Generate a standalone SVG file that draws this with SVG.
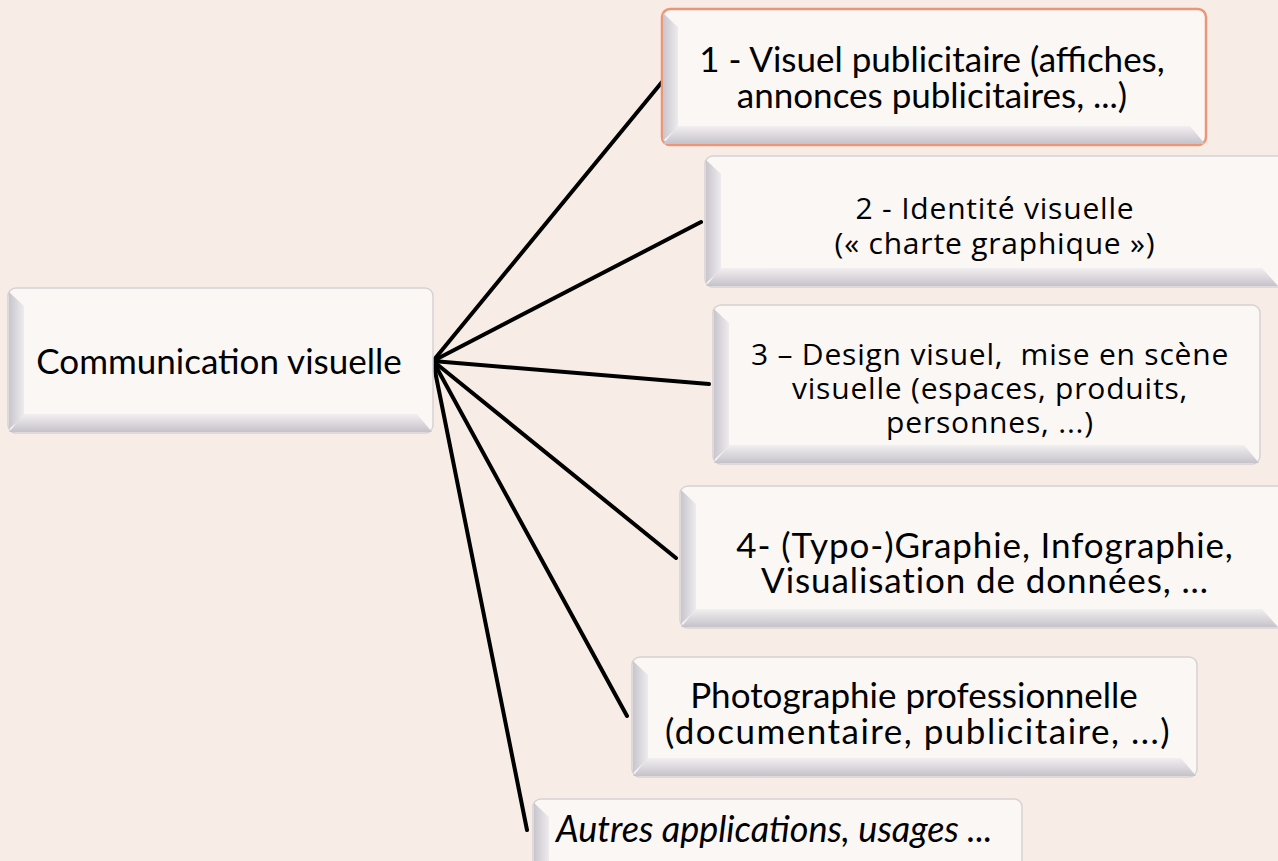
<svg xmlns="http://www.w3.org/2000/svg" width="1278" height="861" viewBox="0 0 1278 861">
<style>
.box{fill:#FBF7F5;stroke:#D6D2D3;stroke-width:1.5}
.hl{stroke:#E9967A;stroke-width:2.5}
.lb{fill:url(#gl)}
.bb{fill:url(#gb)}
.t{font-family:Lato,"Open Sans",sans-serif;font-size:35px;fill:#000;text-anchor:middle}
.t2{font-family:"Open Sans","Noto Sans",sans-serif;font-size:30px;letter-spacing:0.8px;fill:#000;text-anchor:middle;white-space:pre}
.t4{font-size:35px;letter-spacing:0.9px}
.it{font-style:italic;text-anchor:start;font-size:36px}
.c{stroke:#000;stroke-width:4;fill:none;stroke-linecap:round}
</style>
<defs>
<linearGradient id="gl" x1="0" y1="0" x2="1" y2="0"><stop offset="0" stop-color="#C9C5CD"/><stop offset="1" stop-color="#EEEBEE"/></linearGradient>
<linearGradient id="gb" x1="0" y1="0" x2="0" y2="1"><stop offset="0" stop-color="#F2EFF1"/><stop offset="1" stop-color="#C6C2CA"/></linearGradient>
</defs>
<rect width="1278" height="861" fill="#F7ECE6"/>
<g id="connectors">
<line class="c" x1="433" y1="361" x2="662" y2="82"/>
<line class="c" x1="433" y1="361" x2="701" y2="222"/>
<line class="c" x1="433" y1="361" x2="709" y2="384"/>
<line class="c" x1="433" y1="361" x2="676" y2="558"/>
<line class="c" x1="433" y1="361" x2="627" y2="716"/>
<line class="c" x1="433" y1="361" x2="527" y2="830"/>
</g>
<g id="center">
<rect class="box" x="8" y="288" width="425" height="145" rx="8"/>
<polygon class="lb" points="9,292 24,306 24,417 9,429"/>
<polygon class="bb" points="9,432 24,414 417,414 432,432"/>
<text class="t" x="219" y="374">Communication visuelle</text>
</g>
<g id="n1">
<rect class="box hl" x="662" y="9" width="544" height="136" rx="8"/>
<polygon class="lb" points="663,13 678,27 678,127 663,141"/>
<polygon class="bb" points="663,144 678,126 1190,126 1205,144"/>
<text class="t" x="932" y="72">1 - Visuel publicitaire (affiches,</text>
<text class="t" x="932" y="108">annonces publicitaires, ...)</text>
</g>
<g id="n2">
<rect class="box" x="705" y="156" width="600" height="131" rx="8"/>
<polygon class="lb" points="706,160 721,174 721,270 706,283"/>
<polygon class="bb" points="706,286 721,268 1262,268 1278,286"/>
<text class="t2" x="995" y="219">2 - Identité visuelle</text>
<text class="t2" x="995" y="254">(« charte graphique »)</text>
</g>
<g id="n3">
<rect class="box" x="713" y="305" width="547" height="159" rx="8"/>
<polygon class="lb" points="714,309 729,323 729,446 714,460"/>
<polygon class="bb" points="714,463 729,445 1244,445 1259,463"/>
<text class="t2" x="990" y="365" xml:space="preserve">3 – Design visuel,  mise en scène</text>
<text class="t2" x="990" y="399">visuelle (espaces, produits,</text>
<text class="t2" x="990" y="433">personnes, ...)</text>
</g>
<g id="n4">
<rect class="box" x="680" y="486" width="610" height="142" rx="8"/>
<polygon class="lb" points="681,490 696,504 696,610 681,624"/>
<polygon class="bb" points="681,627 696,609 1262,609 1278,627"/>
<text class="t t4" x="985" y="558">4- (Typo-)Graphie, Infographie,</text>
<text class="t t4" x="985" y="593">Visualisation de données, ...</text>
</g>
<g id="n5">
<rect class="box" x="632" y="657" width="565" height="120" rx="8"/>
<polygon class="lb" points="633,661 648,675 648,759 633,773"/>
<polygon class="bb" points="633,776 648,758 1181,758 1196,776"/>
<text class="t" x="914" y="708">Photographie professionnelle</text>
<text class="t" x="918" y="744" style="letter-spacing:1.5px">(documentaire, publicitaire, ...)</text>
</g>
<g id="n6">
<rect class="box" x="533" y="799" width="489" height="80" rx="8"/>
<polygon class="lb" points="534,803 549,817 549,861 534,861"/>
<text class="t it" x="556" y="842">Autres applications, usages ...</text>
</g>
</svg>
